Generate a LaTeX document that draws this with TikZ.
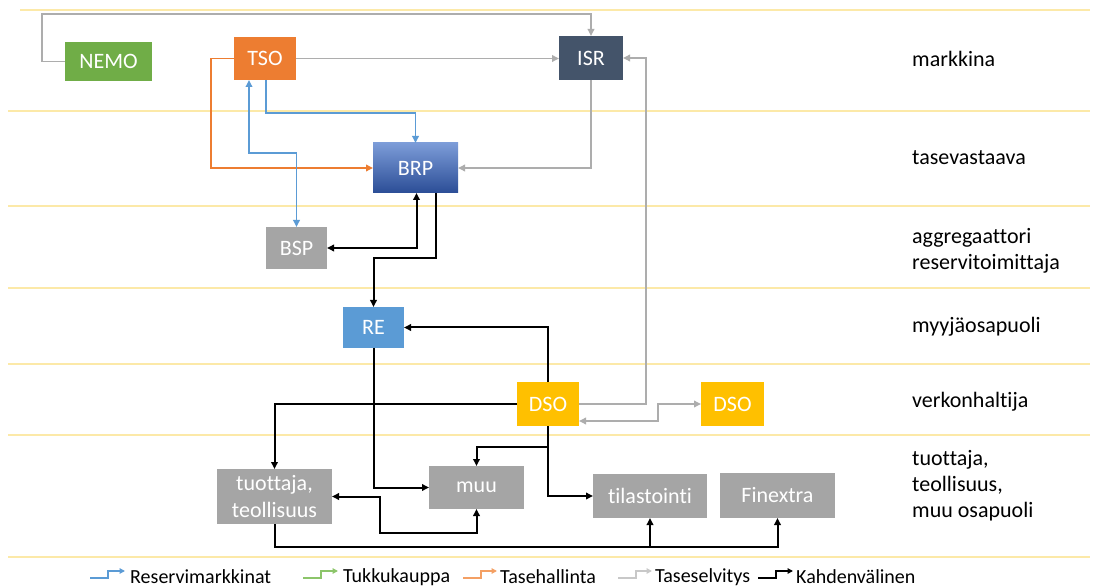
\documentclass[tikz,border=0pt]{standalone}
\usepackage{fontspec}
\setmainfont[Ligatures=NoCommon]{Carlito}
\usetikzlibrary{arrows.meta,calc}

\definecolor{nemogreen}{HTML}{70AD47}
\definecolor{tsoorange}{HTML}{ED7D31}
\definecolor{isrslate}{HTML}{44546A}
\definecolor{reblue}{HTML}{5B9BD5}
\definecolor{dsoyellow}{HTML}{FFC000}
\definecolor{boxgray}{HTML}{A5A5A5}
\definecolor{linegray}{HTML}{ADADAD}
\definecolor{bandline}{HTML}{FCE9A8}
\definecolor{brptop}{HTML}{7C9CD8}
\definecolor{brpbot}{HTML}{2B4D96}
\definecolor{legendgreen}{HTML}{8CC56A}
\definecolor{legendorange}{HTML}{F4A064}
\definecolor{legendgray}{HTML}{C8C8C8}

\tikzset{
  box/.style={rectangle, inner sep=0pt, outer sep=0pt, text=white,
    font=\fontsize{22}{27}\selectfont, align=center},
  rolelabel/.style={anchor=west, align=left, inner sep=0pt,
    font=\fontsize{22}{26}\selectfont},
  legendtext/.style={anchor=west, inner sep=0pt, font=\fontsize{20}{24}\selectfont},
  band/.style={bandline, line width=1.2pt},
  conn/.style={line width=1.8pt},
  blackconn/.style={conn, black, line width=2pt},
  grayconn/.style={conn, linegray},
  blueconn/.style={conn, reblue, line width=1.7pt},
  orangeconn/.style={conn, tsoorange},
  legendicon/.style={line width=1.3pt, ->, >={Triangle[length=5.5pt,width=5.5pt]}},
}

\begin{document}
\begin{tikzpicture}[x=1pt, y=-1pt, >={Triangle[length=7pt,width=6.5pt]}]
  \useasboundingbox (0,0) rectangle (1096,588);
  \fill[white] (0,0) rectangle (1096,588);

  % band separators
  \draw[band] (20,10) -- (1090,10);
  \foreach \yy in {111,206,288,364,435,557}
    \draw[band] (8,\yy) -- (1090,\yy);

  % role labels on the right
  \node[rolelabel] (lblmarket) at (912,59) {markkina};
  \node[rolelabel] (lblbrp) at (912,158) {tasevastaava};
  \node[rolelabel] (lblagg) at (912,251) {aggregaattori\\reservitoimittaja};
  \node[rolelabel] (lblseller) at (912,327) {myyjäosapuoli};
  \node[rolelabel] (lblnet) at (912,402) {verkonhaltija};
  \node[rolelabel] (lblprod) at (912,486) {tuottaja,\\teollisuus,\\muu osapuoli};

  % parties
  \node[box, fill=nemogreen, minimum width=87pt, minimum height=39pt] (nemo) at (108.5,61.5) {NEMO};
  \node[box, fill=tsoorange, minimum width=62pt, minimum height=43pt] (tso) at (265,58.5) {TSO};
  \node[box, fill=isrslate, minimum width=64pt, minimum height=44pt] (isr) at (591,58) {ISR};
  \node[box, top color=brptop, bottom color=brpbot, minimum width=85pt, minimum height=50pt] (brp) at (415.5,168) {BRP};
  \node[box, fill=boxgray, minimum width=61pt, minimum height=42pt] (bsp) at (296.5,248) {BSP};
  \node[box, fill=reblue, minimum width=61pt, minimum height=41pt] (re) at (373.5,327.5) {RE};
  \node[box, fill=dsoyellow, minimum width=62pt, minimum height=44pt] (dso) at (548,404) {DSO};
  \node[box, fill=dsoyellow, minimum width=63pt, minimum height=44pt] (dsob) at (732.5,404) {DSO};
  \node[box, fill=boxgray, minimum width=115pt, minimum height=55pt] (prod) at (274.5,496.5) {tuottaja,\\teollisuus};
  \node[box, fill=boxgray, minimum width=95pt, minimum height=43pt] (muu) at (476.5,487.5) {muu};
  \node[box, fill=boxgray, minimum width=114pt, minimum height=44pt] (stat) at (650,496) {tilastointi};
  \node[box, fill=boxgray, minimum width=115pt, minimum height=45pt] (finx) at (777.5,495.5) {Finextra};

  % balance settlement (grey)
  \draw[grayconn, ->] (nemo.west) -| (42,14) -| (isr.north);
  \draw[grayconn, ->] (tso.east) -- (tso.east -| isr.west);
  \draw[grayconn, ->] (isr.south) |- (brp.east);
  \draw[grayconn, ->] (dso.east) -| (646,200) |- (isr.east);
  \draw[grayconn, <->] ($(dso.east)+(0,17)$) -| (658,404) -- (dsob.west);

  % balance management (orange)
  \draw[orangeconn, ->] (tso.west) -| (211,120) |- (brp.west);

  % reserve markets (blue)
  \draw[blueconn, ->] ($(tso.south)+(1,0)$) -- ++(0,33) -| (brp.north);
  \draw[blueconn, <->] ($(tso.south)+(-16,0)$) -- ++(0,73) -| (bsp.north);

  % bilateral (black)
  \draw[blackconn, <->] (bsp.east) -| ($(brp.south)+(1,0)$);
  \draw[blackconn, ->] ($(brp.south)+(20,0)$) -- ++(0,65) -| (re.north);
  \draw[blackconn, ->] (dso.north) |- (re.east);
  \draw[blackconn, ->] (re.south) |- (muu.west);
  \draw[blackconn, ->] (dso.west) -| (prod.north);
  \draw[blackconn, ->] (dso.south) -- ++(0,21) -| (muu.north);
  \draw[blackconn, ->] (dso.south) |- (stat.west);
  \draw[blackconn, <->] (prod.east) -| (380,533) -| (muu.south);
  \draw[blackconn, ->] (prod.south) -- ++(0,23) coordinate (bus) -| (finx.south);
  \draw[blackconn, ->] (bus -| stat.south) -- (stat.south);

  % legend
  \draw[legendicon, reblue] (90,578) -- (108,578) -- (108,571) -- (125,571);
  \node[legendtext] (legres) at (130,577) {Reservimarkkinat};
  \draw[legendicon, legendgreen] (303,578) -- (321,578) -- (321,571) -- (338,571);
  \node[legendtext] (legtuk) at (343,577) {Tukkukauppa};
  \draw[legendicon, legendorange] (463,578) -- (481,578) -- (481,571) -- (497,571);
  \node[legendtext] (legtase) at (500,577) {Tasehallinta};
  \draw[legendicon, legendgray] (618,578) -- (636,578) -- (636,571) -- (652,571);
  \node[legendtext] (legsel) at (655,577) {Taseselvitys};
  \draw[legendicon, black] (758,578) -- (776,578) -- (776,571) -- (793,571);
  \node[legendtext] (legkah) at (796,577) {Kahdenvälinen};
\end{tikzpicture}
\end{document}
